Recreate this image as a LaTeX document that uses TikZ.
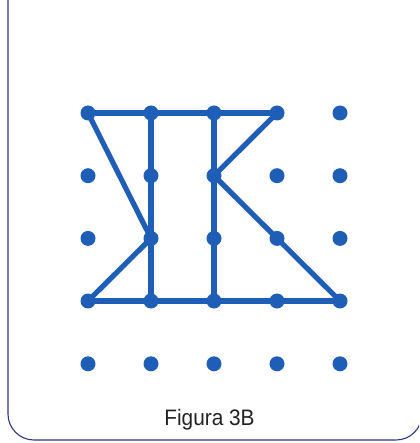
\documentclass[tikz,border=0pt]{standalone}
\usepackage{fontspec}
\setmainfont{Liberation Sans}
\definecolor{dotblue}{RGB}{30,94,182}
\definecolor{framenavy}{RGB}{45,55,135}
\definecolor{captext}{RGB}{35,35,35}
\tikzset{
  griddot/.style={circle,fill=dotblue,inner sep=0pt,minimum size=15pt},
  figline/.style={draw=dotblue,line width=5.2pt,line cap=round,line join=round},
  frame/.style={draw=framenavy,line width=1.1pt,rounded corners=26pt,fill=white}
}
\begin{document}
\begin{tikzpicture}[x=1pt,y=-1pt]
\useasboundingbox (0,0) rectangle (419,443);
\fill[white] (0,0) rectangle (419,443);
\begin{scope}
\clip (0,0) rectangle (419,443);
\path[frame] (8,-40) rectangle (422,440);
\end{scope}
% grid of dots
\foreach \c/\x in {1/88,2/151,3/214,4/277,5/340}{
  \foreach \r/\y in {1/113,2/175.7,3/238.4,4/301,5/363.8}{
    \node[griddot] (d\c\r) at (\x,\y) {};
  }
}
% figure lines
\draw[figline] (d11.center) -- (d41.center);
\draw[figline] (d11.center) -- (d23.center) -- (d14.center);
\draw[figline] (d14.center) -- (d54.center);
\draw[figline] (d21.center) -- (d24.center);
\draw[figline] (d31.center) -- (d34.center);
\draw[figline] (d41.center) -- (d32.center) -- (d54.center);
% caption
\node[anchor=base,text=captext,inner sep=0pt] (cap) at (209.5,425)
  {\scalebox{0.93}[1]{\fontsize{22.4}{26}\selectfont Figura 3B}};
\end{tikzpicture}
\end{document}
